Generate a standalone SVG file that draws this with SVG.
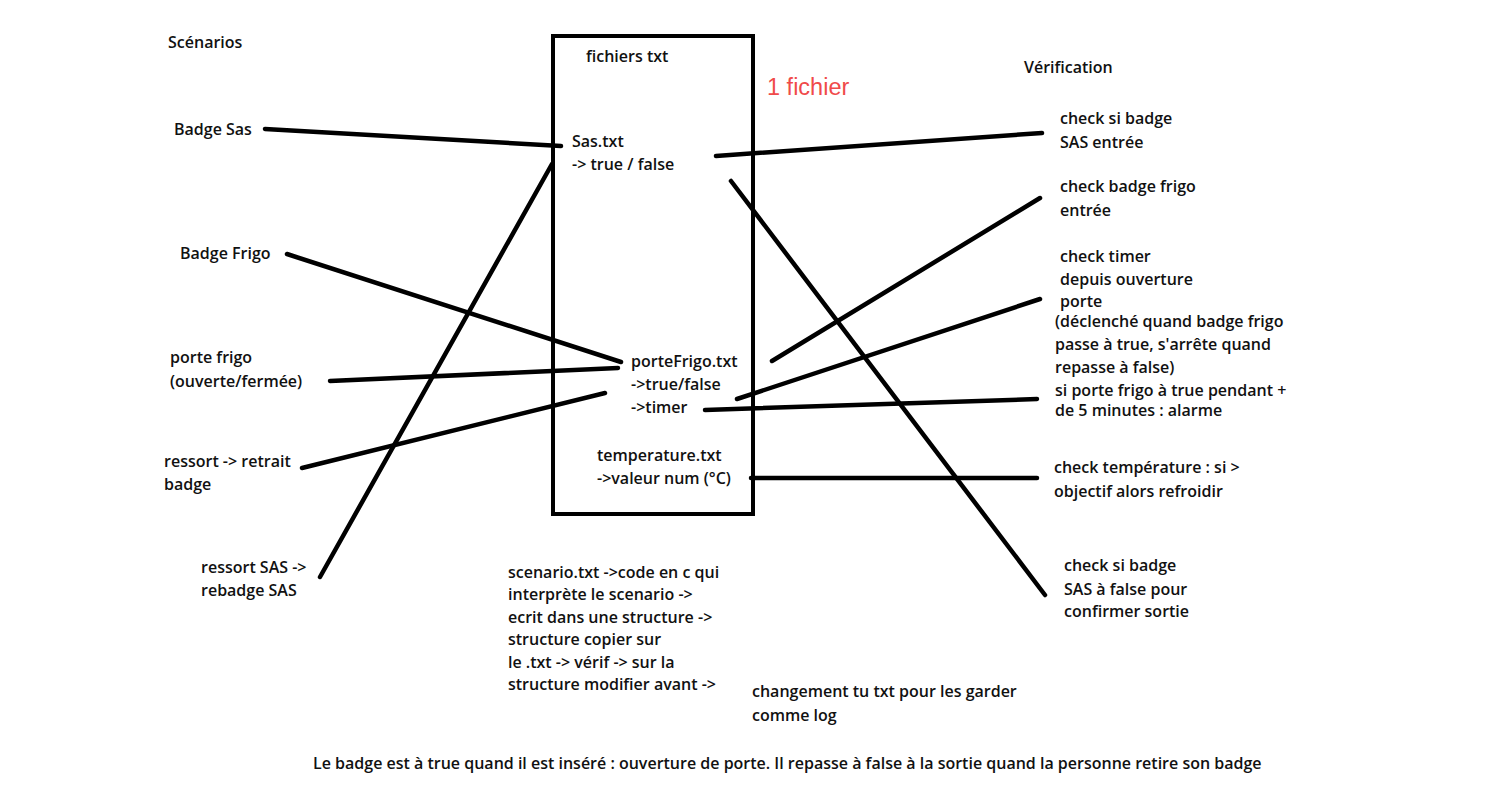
<svg xmlns="http://www.w3.org/2000/svg" width="1511" height="796" viewBox="0 0 1511 796">
<style>
text{font-family:"Open Sans","Liberation Sans",sans-serif;font-size:16px;font-weight:600;fill:#111}
.red{font-family:"Liberation Sans",Arial,sans-serif;font-size:23.5px;font-weight:400;fill:#f04a4a}
.c line{stroke:#000;stroke-width:4.5;stroke-linecap:round}
.box{fill:#fff;stroke:#000;stroke-width:4}
</style>
<rect width="1511" height="796" fill="#fff"/>
<g id="fichiers">
<rect class="box" x="553" y="36" width="200" height="478"/>
<text x="586" y="62">fichiers txt</text>
<text x="572" y="147">Sas.txt</text>
<text x="572" y="170">-&gt; true / false</text>
<text x="631" y="367">porteFrigo.txt</text>
<text x="631" y="390">-&gt;true/false</text>
<text x="631" y="413">-&gt;timer</text>
<text x="597" y="461">temperature.txt</text>
<text x="597" y="484">-&gt;valeur num (°C)</text>
</g>
<g id="un-fichier"><text class="red" x="767" y="95">1 fichier</text></g>
<g id="titre-scenarios"><text x="168" y="48">Scénarios</text></g>
<g id="titre-verification"><text x="1024" y="73">Vérification</text></g>
<g id="badge-sas"><text x="174" y="135">Badge Sas</text></g>
<g id="badge-frigo"><text x="180" y="259">Badge Frigo</text></g>
<g id="porte-frigo"><text x="170" y="363">porte frigo</text><text x="170" y="387">(ouverte/fermée)</text></g>
<g id="ressort-retrait"><text x="164" y="467">ressort -&gt; retrait</text><text x="164" y="490">badge</text></g>
<g id="ressort-sas"><text x="201" y="573">ressort SAS -&gt;</text><text x="201" y="596">rebadge SAS</text></g>
<g id="check-sas-entree"><text x="1060" y="124">check si badge</text><text x="1060" y="148">SAS entrée</text></g>
<g id="check-frigo-entree"><text x="1060" y="192">check badge frigo</text><text x="1060" y="216">entrée</text></g>
<g id="check-timer">
<text x="1060" y="262">check timer</text>
<text x="1060" y="285">depuis ouverture</text>
<text x="1060" y="307">porte</text>
<text x="1055" y="327">(déclenché quand badge frigo</text>
<text x="1055" y="350">passe à true, s'arrête quand</text>
<text x="1055" y="373">repasse à false)</text>
<text x="1055" y="396">si porte frigo à true pendant +</text>
<text x="1055" y="416">de 5 minutes : alarme</text>
</g>
<g id="check-temperature"><text x="1054" y="473">check température : si &gt;</text><text x="1054" y="497">objectif alors refroidir</text></g>
<g id="check-sortie"><text x="1064" y="571">check si badge</text><text x="1064" y="595">SAS à false pour</text><text x="1064" y="617">confirmer sortie</text></g>
<g id="note-scenario">
<text x="508" y="578">scenario.txt -&gt;code en c qui</text>
<text x="508" y="600">interprète le scenario -&gt;</text>
<text x="508" y="623">ecrit dans une structure -&gt;</text>
<text x="508" y="645">structure copier sur</text>
<text x="508" y="668">le .txt -&gt; vérif -&gt; sur la</text>
<text x="508" y="690">structure modifier avant -&gt;</text>
</g>
<g id="note-log"><text x="752" y="697">changement tu txt pour les garder</text><text x="752" y="721">comme log</text></g>
<g id="note-badge"><text x="313" y="769">Le badge est à true quand il est inséré : ouverture de porte. Il repasse à false à la sortie quand la personne retire son badge</text></g>
<g id="connectors" class="c">
<line x1="265" y1="129" x2="561" y2="146"/>
<line x1="552" y1="164" x2="320" y2="577"/>
<line x1="287" y1="254" x2="621" y2="362"/>
<line x1="330" y1="381" x2="618" y2="368"/>
<line x1="302" y1="468" x2="605" y2="393"/>
<line x1="716" y1="156" x2="1042" y2="133"/>
<line x1="731" y1="181" x2="1045" y2="595"/>
<line x1="772" y1="361" x2="1040" y2="198"/>
<line x1="737" y1="399" x2="1040" y2="299"/>
<line x1="705" y1="410" x2="1037" y2="399"/>
<line x1="751" y1="478" x2="1037" y2="478"/>
</g>
</svg>
